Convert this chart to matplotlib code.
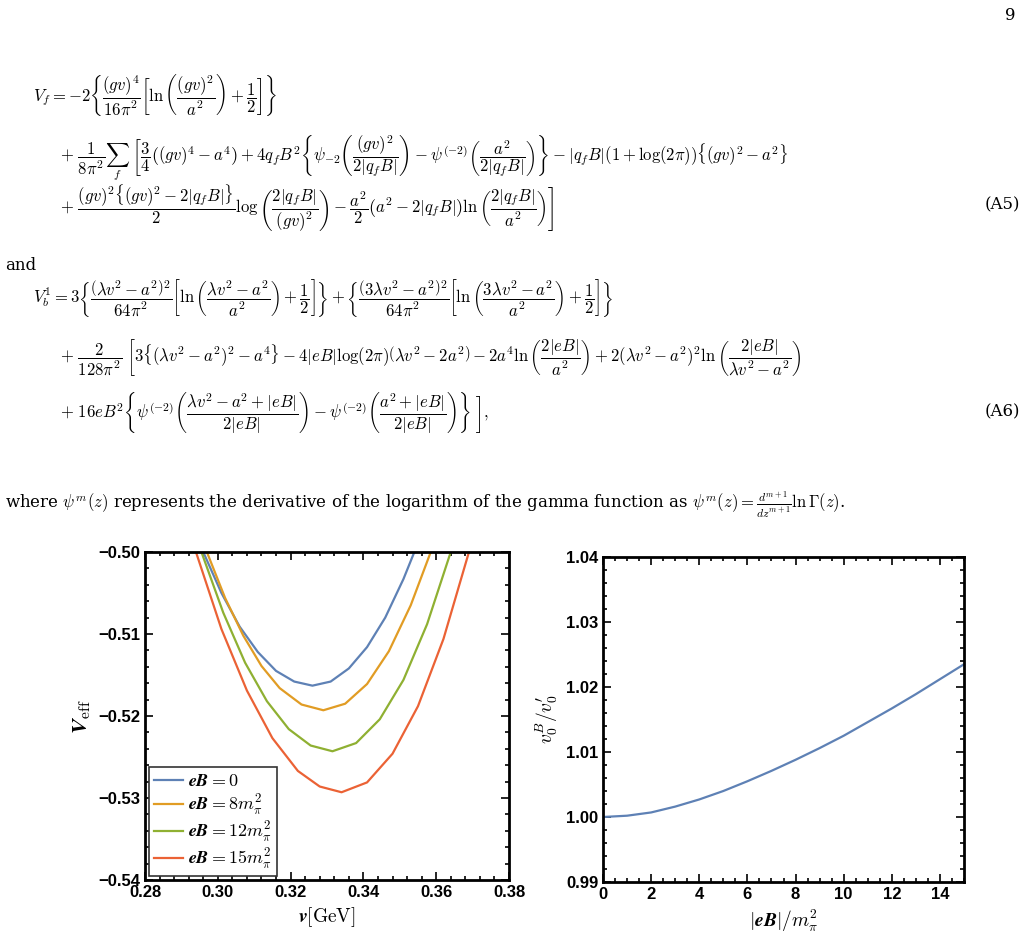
import io
import matplotlib
matplotlib.use("Agg")
import matplotlib.pyplot as plt
from matplotlib import mathtext
from matplotlib.ticker import MultipleLocator, AutoMinorLocator

plt.rcParams['mathtext.fontset'] = 'cm'
plt.rcParams['font.family'] = ['DejaVu Serif']

# ---------------- data ----------------
blue_x = [0.296, 0.301, 0.306, 0.311, 0.316, 0.321, 0.326, 0.331, 0.336, 0.341, 0.346, 0.351, 0.354]
blue_y = [-0.5000, -0.5050, -0.5091, -0.5122, -0.5145, -0.5158, -0.5163, -0.5158, -0.5142, -0.5116, -0.5080, -0.5033, -0.5000]
orange_x = [0.297, 0.302, 0.307, 0.312, 0.317, 0.323, 0.329, 0.335, 0.341, 0.347, 0.353, 0.3585]
orange_y = [-0.5000, -0.5056, -0.5102, -0.5139, -0.5166, -0.5186, -0.5193, -0.5185, -0.5161, -0.5121, -0.5065, -0.5000]
green_x = [0.2955, 0.3015, 0.3075, 0.3135, 0.3195, 0.3255, 0.3315, 0.338, 0.3445, 0.351, 0.3575, 0.364]
green_y = [-0.5000, -0.5074, -0.5135, -0.5182, -0.5216, -0.5236, -0.5243, -0.5233, -0.5204, -0.5156, -0.5088, -0.5000]
red_x = [0.294, 0.301, 0.308, 0.315, 0.322, 0.328, 0.334, 0.341, 0.348, 0.355, 0.362, 0.369]
red_y = [-0.5000, -0.5094, -0.5169, -0.5227, -0.5267, -0.5286, -0.5293, -0.5281, -0.5246, -0.5188, -0.5106, -0.5000]
labels = [r'$\boldsymbol{eB=0}$', r'$\boldsymbol{eB=8m_\pi^2}$', r'$\boldsymbol{eB=12m_\pi^2}$', r'$\boldsymbol{eB=15m_\pi^2}$']
labels_plain = [r'$eB=0$', r'$eB=8m_\pi^2$', r'$eB=12m_\pi^2$', r'$eB=15m_\pi^2$']
colors = ['#5E81B5', '#E19C24', '#8FB032', '#EB6235']

ratio_x = [0, 1, 2, 3, 4, 5, 6, 7, 8, 9, 10, 11, 12, 13, 14, 15]
ratio_y = [1.0000, 1.0002, 1.0007, 1.0016, 1.0027, 1.0040, 1.0055, 1.0071, 1.0088, 1.0106, 1.0125, 1.0146, 1.0167, 1.0189, 1.0212, 1.0235]

fig = plt.figure(figsize=(10.28, 9.4), dpi=100)


def ok(s, fs=12):
    try:
        mathtext.math_to_image(s, io.BytesIO(), prop=matplotlib.font_manager.FontProperties(size=fs), format='png')
        return True
    except Exception:
        return False


def ftext(x, y, s, fallback=None, **kw):
    if not ok(s):
        s2 = s.replace(r'\dfrac', r'\frac')
        s = s2 if ok(s2) else (fallback if fallback is not None else s.replace('$', ''))
    fig.text(x / 1028, 1 - y / 940, s, va='center', **kw)


FS = 12
ftext(1015, 15, '9', ha='right', fontsize=FS)
ftext(33, 95, r'$V_f=-2\left\{\dfrac{(gv)^4}{16\pi^2}\left[\ln\left(\dfrac{(gv)^2}{a^2}\right)+\dfrac{1}{2}\right]\right\}$', fontsize=FS)
ftext(60, 158, r'$+\ \dfrac{1}{8\pi^2}\sum_f\ \left[\dfrac{3}{4}\left((gv)^4-a^4\right)+4q_fB^2\left\{\psi_{-2}\left(\dfrac{(gv)^2}{2|q_fB|}\right)-\psi^{(-2)}\left(\dfrac{a^2}{2|q_fB|}\right)\right\}-|q_fB|(1+\log(2\pi))\{(gv)^2-a^2\}\right.$', fontsize=FS)
ftext(60, 208, r'$+\ \left.\dfrac{(gv)^2\{(gv)^2-2|q_fB|\}}{2}\log\left(\dfrac{2|q_fB|}{(gv)^2}\right)-\dfrac{a^2}{2}\left(a^2-2|q_fB|\right)\ln\left(\dfrac{2|q_fB|}{a^2}\right)\right]$', fontsize=FS)
ftext(1020, 205, '(A5)', ha='right', fontsize=FS)
ftext(5, 265, 'and', fontsize=FS)
ftext(33, 298, r'$V_b^1=3\left\{\dfrac{\left(\lambda v^2-a^2\right)^2}{64\pi^2}\left[\ln\left(\dfrac{\lambda v^2-a^2}{a^2}\right)+\dfrac{1}{2}\right]\right\}+\left\{\dfrac{\left(3\lambda v^2-a^2\right)^2}{64\pi^2}\left[\ln\left(\dfrac{3\lambda v^2-a^2}{a^2}\right)+\dfrac{1}{2}\right]\right\}$', fontsize=FS)
ftext(60, 358, r'$+\ \dfrac{2}{128\pi^2}\ \left[3\{(\lambda v^2-a^2)^2-a^4\}-4|eB|\log(2\pi)\left(\lambda v^2-2a^2\right)-2a^4\ln\left(\dfrac{2|eB|}{a^2}\right)+2(\lambda v^2-a^2)^2\ln\left(\dfrac{2|eB|}{\lambda v^2-a^2}\right)\right.$', fontsize=FS)
ftext(60, 412, r'$+\ 16eB^2\left.\left\{\psi^{(-2)}\left(\dfrac{\lambda v^2-a^2+|eB|}{2|eB|}\right)-\psi^{(-2)}\left(\dfrac{a^2+|eB|}{2|eB|}\right)\right\}\ \right],$', fontsize=FS)
ftext(1020, 412, '(A6)', ha='right', fontsize=FS)
ftext(5, 505, r'where $\psi^m(z)$ represents the derivative of the logarithm of the gamma function as $\psi^m(z)=\frac{d^{m+1}}{dz^{m+1}}\ln\Gamma(z)$.', fontsize=FS)


def style(ax):
    for sp in ax.spines.values():
        sp.set_linewidth(2)
    ax.tick_params(which='both', direction='in', top=True, right=True, width=1.2)
    ax.tick_params(which='major', length=6)
    ax.tick_params(which='minor', length=3)
    for lab in ax.get_xticklabels() + ax.get_yticklabels():
        lab.set_fontfamily('Liberation Sans')
        lab.set_fontweight('bold')
        lab.set_fontsize(12)


ax1 = fig.add_axes([145 / 1028, 60 / 940, 364 / 1028, 328 / 940])
labs = labels if all(ok(l) for l in labels) else labels_plain
for xs, ys, c, l in zip([blue_x, orange_x, green_x, red_x], [blue_y, orange_y, green_y, red_y], colors, labs):
    ax1.plot(xs, ys, color=c, lw=1.6, label=l)
ax1.set_xlim(0.28, 0.38)
ax1.set_ylim(-0.54, -0.50)
ax1.xaxis.set_major_locator(MultipleLocator(0.02))
ax1.yaxis.set_major_locator(MultipleLocator(0.01))
ax1.xaxis.set_minor_locator(AutoMinorLocator(5))
ax1.yaxis.set_minor_locator(AutoMinorLocator(5))
ax1.set_xticklabels(['%.2f' % v for v in ax1.get_xticks()])
ax1.set_yticklabels([('\u2212%.2f' % abs(v)) for v in ax1.get_yticks()])
style(ax1)
ax1.set_xlabel(r'$\boldsymbol{v}[\mathrm{GeV}]$' if ok(r'$\boldsymbol{v}[\mathrm{GeV}]$') else r'$v[\mathrm{GeV}]$', fontsize=14)
ax1.set_ylabel(r'$\boldsymbol{V}_{\mathrm{eff}}$' if ok(r'$\boldsymbol{V}_{\mathrm{eff}}$') else r'$V_{\mathrm{eff}}$', fontsize=16)
leg = ax1.legend(loc='lower left', fancybox=False, edgecolor='#333333', framealpha=1,
                 fontsize=13, handlelength=1.6, handletextpad=0.3, borderaxespad=0.2,
                 labelspacing=0.15, borderpad=0.3)
leg.get_frame().set_linewidth(1.2)

ax2 = fig.add_axes([603 / 1028, 58 / 940, 361 / 1028, 325 / 940])
ax2.plot(ratio_x, ratio_y, color=colors[0], lw=1.6)
ax2.set_xlim(0, 15)
ax2.set_ylim(0.99, 1.04)
ax2.xaxis.set_major_locator(MultipleLocator(2))
ax2.yaxis.set_major_locator(MultipleLocator(0.01))
ax2.xaxis.set_minor_locator(AutoMinorLocator(4))
ax2.yaxis.set_minor_locator(AutoMinorLocator(5))
ax2.set_xticklabels(['%d' % v for v in ax2.get_xticks()])
ax2.set_yticklabels(['%.2f' % v for v in ax2.get_yticks()])
style(ax2)
xl = r'$\boldsymbol{|eB|/m_\pi^2}$'
ax2.set_xlabel(xl if ok(xl) else r'$|eB|/m_\pi^2$', fontsize=14)
yl = r"$\boldsymbol{v_0^B/v_0'}$"
ax2.set_ylabel(yl if ok(yl) else r"$v_0^B/v_0'$", fontsize=14)

fig.savefig('out.png', dpi=100)
